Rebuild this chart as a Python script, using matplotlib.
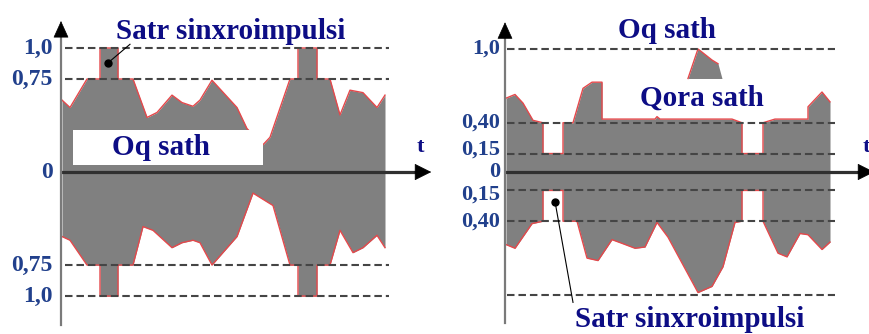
import matplotlib
matplotlib.use("Agg")
from matplotlib import pyplot as plt
from matplotlib.patches import Rectangle

# left panel: full video signal (white level up)
left_t_up = [0.1, 0.9, 2.6, 3.9, 3.9, 5.7, 5.7, 7.2, 8.6, 9.6, 11.1, 12.1, 13.2, 13.9, 15.1,
             17.6, 18.6, 20.2, 20.9, 22.9, 23.7, 23.7, 25.6, 25.6, 26.9, 27.9, 28.9, 30.2, 31.6, 32.4]
left_up = [0.58, 0.52, 0.75, 0.75, 1.0, 1.0, 0.75, 0.75, 0.44, 0.48, 0.62, 0.56, 0.53, 0.58, 0.74,
           0.52, 0.35, 0.22, 0.28, 0.75, 0.75, 1.0, 1.0, 0.75, 0.75, 0.46, 0.66, 0.64, 0.52, 0.62]
left_t_lo = [0.1, 0.9, 2.6, 3.9, 3.9, 5.7, 5.7, 7.2, 8.2, 9.2, 11.1, 12.1, 13.2, 13.9, 15.1,
             17.6, 19.2, 21.2, 22.9, 23.7, 23.7, 25.6, 25.6, 26.9, 27.9, 29.2, 30.2, 31.6, 32.4]
left_lo = [-0.52, -0.55, -0.75, -0.75, -1.0, -1.0, -0.75, -0.75, -0.44, -0.47, -0.61, -0.57, -0.55, -0.57, -0.75,
           -0.52, -0.17, -0.27, -0.75, -0.75, -1.0, -1.0, -0.75, -0.75, -0.47, -0.65, -0.61, -0.51, -0.61]
left_levels = [1.0, 0.75, -0.75, -1.0]
left_ticks = [1.0, 0.75, 0.0, -0.75, -1.0]
left_labels = ["1,0", "0,75", "0", "0,75", "1,0"]

# right panel: signal with black level up
right_t_up = [0.1, 1.0, 1.8, 2.8, 3.8, 3.8, 5.8, 5.8, 6.8, 7.8, 8.7, 9.7, 9.7, 15.0, 15.2, 15.5,
              22.7, 23.7, 23.7, 25.8, 25.8, 27.0, 30.3, 30.3, 31.7, 32.5]
right_up = [0.60, 0.63, 0.56, 0.42, 0.40, 0.15, 0.15, 0.40, 0.40, 0.68, 0.73, 0.73, 0.43, 0.43, 0.45, 0.43,
            0.43, 0.40, 0.15, 0.15, 0.40, 0.43, 0.43, 0.53, 0.65, 0.57]
right_t_lo = [0.1, 1.0, 2.7, 3.8, 3.8, 5.8, 5.8, 7.2, 8.2, 9.3, 10.7, 11.7, 13.0, 14.0, 15.2, 16.3,
              19.3, 20.7, 21.8, 23.0, 23.7, 23.7, 25.8, 25.8, 27.3, 28.2, 29.5, 30.3, 31.7, 32.5]
right_lo = [-0.59, -0.62, -0.42, -0.40, -0.15, -0.15, -0.40, -0.40, -0.70, -0.72, -0.55, -0.58, -0.62, -0.61,
            -0.41, -0.53, -0.98, -0.93, -0.77, -0.41, -0.40, -0.15, -0.15, -0.40, -0.66, -0.69, -0.50, -0.51,
            -0.63, -0.57]
peak_t = [18.3, 19.3, 20.7, 21.3, 21.7]
peak_v = [0.76, 1.0, 0.91, 0.88, 0.76]
right_levels = [1.0, 0.40, 0.15, -0.15, -0.40, -1.0]
right_ticks = [1.0, 0.40, 0.15, 0.0, -0.15, -0.40]
right_labels = ["1,0", "0,40", "0,15", "0", "0,15", "0,40"]

GRAY = "#808080"
RED = "#e5484b"
NAVY = "#0d0d85"
TICKC = "#21408c"
SERIF = ["Liberation Serif", "DejaVu Serif"]


def draw_axes(ax, x_end, t_label_x):
    # zero line + arrow, vertical axis + arrow
    ax.plot([0, x_end - 1.0], [0, 0], color="#303030", lw=2.3, zorder=5, solid_capstyle="butt", clip_on=False)
    ax.annotate("", xy=(x_end, 0), xytext=(x_end - 2.2, 0), annotation_clip=False,
                arrowprops=dict(arrowstyle="-|>,head_length=1.1,head_width=0.55", color="black", lw=0.5),
                zorder=6)
    ax.plot([0, 0], [-1.23, 1.1], color="#7a7a7a", lw=1.6, zorder=5)
    ax.annotate("", xy=(0, 1.24), xytext=(0, 1.08), annotation_clip=False,
                arrowprops=dict(arrowstyle="-|>,head_length=1.1,head_width=0.5", color="black", lw=0.5),
                zorder=6)
    ax.text(t_label_x, 0.2, "t", fontsize=16, fontweight="bold", family=SERIF,
            color=NAVY, ha="left", va="center", zorder=7)


def draw_levels(ax, levels, t0, t1):
    for lv in levels:
        ax.plot([t0, t1], [lv, lv], color="#454545", lw=1.5, dashes=(3.6, 1.9), zorder=4)


def draw_ticks(ax, ticks, labels, x, size):
    for v, lab in zip(ticks, labels):
        # nudge the crowded labels near zero apart a little
        dy = 0.03 if 0 < v < 0.2 else (-0.03 if -0.2 < v < 0 else 0)
        ax.text(x, v + dy, lab, fontsize=size, fontweight="bold", family=SERIF,
                color=TICKC, ha="right", va="center", zorder=7)


def label(ax, x, y, s):
    ax.text(x, y, s, fontsize=21, fontweight="bold", family=SERIF,
            color=NAVY, ha="center", va="center", zorder=7)


fig = plt.figure(figsize=(8.7, 3.34), dpi=100)

# ---- left
ax1 = fig.add_axes([0, 0, 0.5, 1])
ax1.set_xlim(-6.1, 37.4)
ax1.set_ylim(-1.306, 1.387)
ax1.axis("off")
ax1.fill_between(left_t_up, 0, left_up, color=GRAY, lw=0, zorder=1)
ax1.fill_between(left_t_lo, 0, left_lo, color=GRAY, lw=0, zorder=1)
ax1.plot(left_t_up, left_up, color=RED, lw=1.0, zorder=2)
ax1.plot(left_t_lo, left_lo, color=RED, lw=1.0, zorder=2)
ax1.add_patch(Rectangle((1.2, 0.056), 19.0, 0.284, facecolor="white", edgecolor="none", zorder=3))
draw_levels(ax1, left_levels, 0.4, 32.8)
draw_axes(ax1, 37.3, 35.6)
draw_ticks(ax1, left_ticks, left_labels, -0.8, 17)
label(ax1, 10.0, 0.2, "Oq sath")
label(ax1, 17.0, 1.13, "Satr sinxroimpulsi")
ax1.plot([4.7, 6.9], [0.88, 1.03], color="black", lw=0.8, zorder=6)
ax1.plot([4.7], [0.88], "o", color="black", ms=5, zorder=6)

# ---- right
ax2 = fig.add_axes([0.5, 0, 0.5, 1])
ax2.set_xlim(-7.0, 36.5)
ax2.set_ylim(-1.317, 1.398)
ax2.axis("off")
ax2.fill_between(right_t_up, 0, right_up, color=GRAY, lw=0, zorder=1)
ax2.fill_between(right_t_lo, 0, right_lo, color=GRAY, lw=0, zorder=1)
ax2.fill_between(peak_t, 0.76, peak_v, color=GRAY, lw=0, zorder=1)
ax2.plot(right_t_up, right_up, color=RED, lw=1.0, zorder=2)
ax2.plot(right_t_lo, right_lo, color=RED, lw=1.0, zorder=2)
ax2.plot(peak_t[:-1], peak_v[:-1], color=RED, lw=1.0, zorder=2)
draw_levels(ax2, right_levels, 0.2, 33.0)
draw_axes(ax2, 37.2, 35.8)
draw_ticks(ax2, right_ticks, right_labels, -0.5, 16)
label(ax2, 16.2, 1.15, "Oq sath")
label(ax2, 19.7, 0.6, "Qora sath")
label(ax2, 18.5, -1.2, "Satr sinxroimpulsi")
ax2.plot([5.0, 6.8], [-0.24, -1.06], color="black", lw=0.8, zorder=6)
ax2.plot([5.0], [-0.24], "o", color="black", ms=5, zorder=6)

fig.savefig("out.png", dpi=100)
